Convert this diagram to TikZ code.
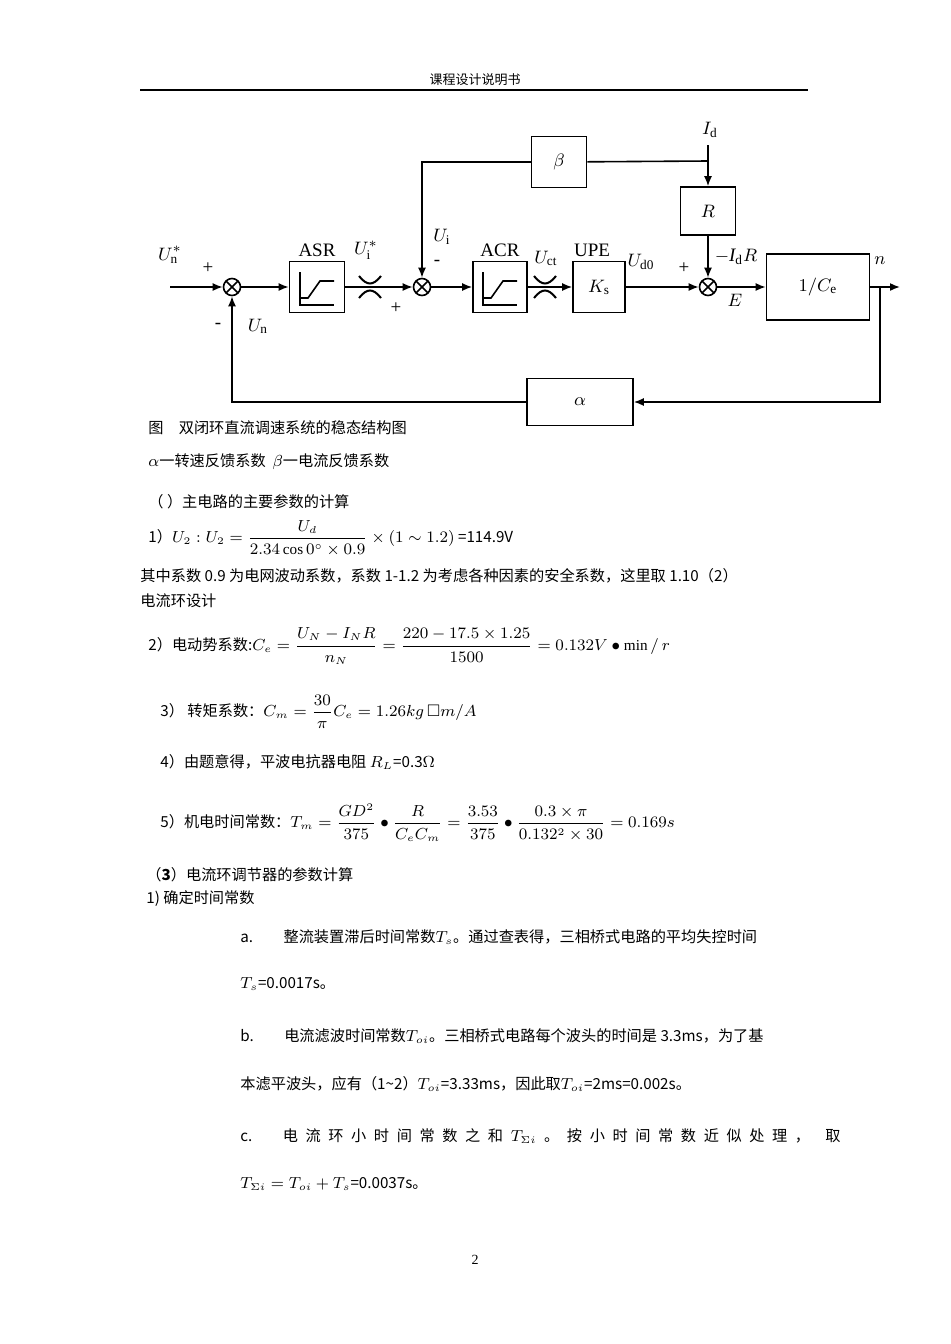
\documentclass[tikz,border=0pt]{standalone}
\usepackage{amsmath,amssymb}
\usepackage{fontspec}
\setmainfont{Liberation Serif}
\newfontfamily\cjk{Noto Sans CJK SC}
\usetikzlibrary{arrows.meta}
\begin{document}
\begin{tikzpicture}[x=0.5pt,y=-0.5pt,
  txt/.style={anchor=west,inner sep=0,font=\cjk\fontsize{7.6}{9}\selectfont},
  lab/.style={inner sep=0,font=\fontsize{9.5}{11}\selectfont},
  blk/.style={draw,line width=0.8pt,inner sep=0,font=\fontsize{9.5}{11}\selectfont},
  sumn/.style={draw,circle,line width=0.8pt,minimum size=8.5pt,inner sep=0,path picture={\draw (path picture bounding box.north west)--(path picture bounding box.south east) (path picture bounding box.north east)--(path picture bounding box.south west);}},
  ar/.style={-{Latex[length=5pt,width=4pt]},line width=0.8pt},
  ln/.style={line width=0.8pt}]
\useasboundingbox (0,0) rectangle (950,1344);
\fill[white] (0,0) rectangle (950,1344);
% header
\node[font=\cjk\fontsize{6.5}{8}\selectfont,inner sep=0] (hdr) at (475,80) {课程设计说明书};
\draw[line width=0.6pt] (140,90) -- (808,90);
\node[font=\fontsize{7}{8}\selectfont,inner sep=0] (pg) at (475,1260) {2};
% diagram
\coordinate (in) at (170,287);
\node[sumn] (s1) at (232,287) {};
\node[blk,minimum width=27.5pt,minimum height=25.5pt] (asr) at (317,287) {};
\coordinate (x1) at (370,287);
\node[sumn] (s2) at (422,287) {};
\node[blk,minimum width=27pt,minimum height=25.5pt] (acr) at (500,287) {};
\coordinate (x2) at (545,287);
\node[blk,minimum width=26pt,minimum height=25.5pt] (upe) at (599,287) {$K_{\mathrm s}$};
\node[sumn] (s3) at (708,287) {};
\node[blk,minimum width=51.5pt,minimum height=33pt] (ce) at (818,287) {$1/C_{\mathrm e}$};
\coordinate (out) at (900,287);
\coordinate (br) at (880,287);
\node[blk,minimum width=27.5pt,minimum height=25.5pt] (beta) at (559,162) {$\beta$};
\node[blk,minimum width=27.5pt,minimum height=24pt] (R) at (708,211) {$R$};
\node[blk,minimum width=53pt,minimum height=23.5pt] (alpha) at (580,402) {$\alpha$};
\node[lab] (Id) at (710,130) {$I_{\mathrm d}$};
\coordinate (idt) at (708,145);
\coordinate (bj) at (708,161);
% connectors
\draw[ar] (in) -- (s1);
\draw[ar] (s1) -- (asr);
\draw[ln] (asr) -- (x1);
\draw[ar] (x1) -- (s2);
\draw[ar] (s2) -- (acr);
\draw[ln] (acr) -- (x2);
\draw[ar] (x2) -- (upe);
\draw[ar] (upe) -- (s3);
\draw[ar] (s3) -- (ce);
\draw[ar] (ce) -- (out);
\draw[ar] (br) |- (alpha);
\draw[ar] (alpha) -| (s1);
\draw[ar] (idt) -- (R);
\draw[ar] (R) -- (s3);
\draw[ln] (bj) -- (beta);
\draw[ar] (beta) -| (s2);
% cross marks
\foreach \c in {370,545}{
 \draw[line width=1pt] (\c-11,276) .. controls (\c-3,286) and (\c+3,286) .. (\c+11,276);
 \draw[line width=1pt] (\c-11,298) .. controls (\c-3,288) and (\c+3,288) .. (\c+11,298);}
% limiter symbols
\foreach \c in {317,500}{
 \draw[line width=0.8pt] (\c-17,272) -- (\c-17,305) -- (\c+17,305);
 \draw[line width=0.8pt] (\c-17,298) -- (\c-9,298) -- (\c+3,281) -- (\c+17,281);}
% labels
\node[lab] at (170,255) {$U^{*}_{\mathrm n}$};
\node[lab] at (208,268) {+};
\node[lab] at (218,326) {-};
\node[lab] at (258,326) {$U_{\mathrm n}$};
\node[lab] at (317,250) {ASR};
\node[lab] at (366,250) {$U^{*}_{\mathrm i}$};
\node[lab] at (396,308) {+};
\node[lab] at (442,237) {$U_{\mathrm i}$};
\node[lab] at (437,263) {-};
\node[lab] at (500,250) {ACR};
\node[lab] at (546,258) {$U_{\mathrm{ct}}$};
\node[lab] at (592,250) {UPE};
\node[lab] at (641,262) {$U_{\mathrm{d0}}$};
\node[lab] at (684,268) {+};
\node[lab] at (736,257) {$\mathit{-I}_{\mathrm d}R$};
\node[lab] at (735,300) {$E$};
\node[lab] at (880,261) {$n$};
% text
\node[txt] at (148,428) {图\quad 双闭环直流调速系统的稳态结构图};
\node[txt] at (148,462) {$\alpha$一转速反馈系数\ \ $\beta$一电流反馈系数};
\node[txt] at (148,502) {（ ）主电路的主要参数的计算};
\node[txt] at (148,538) {1）$U_2:U_2=\dfrac{U_d}{2.34\cos0^\circ\times0.9}\times(1\sim1.2)$ =114.9V};
\node[txt] at (140,576) {其中系数 0.9 为电网波动系数，系数 1-1.2 为考虑各种因素的安全系数，这里取 1.10（2）};
\node[txt] at (140,601) {电流环设计};
\node[txt] at (148,646) {2）电动势系数:$C_e=\dfrac{U_N-I_NR}{n_N}=\dfrac{220-17.5\times1.25}{1500}=0.132V\bullet\min/\,r$};
\node[txt] at (160,712) {3）\ 转矩系数：$C_m=\dfrac{30}{\pi}C_e=1.26kg\,\square m/A$};
\node[txt] at (160,762) {4）由题意得，平波电抗器电阻 $R_L$=0.3$\Omega$};
\node[txt] at (160,823) {5）机电时间常数：$T_m=\dfrac{GD^2}{375}\bullet\dfrac{R}{C_eC_m}=\dfrac{3.53}{375}\bullet\dfrac{0.3\times\pi}{0.132^2\times30}=0.169s$};
\node[txt] at (146,875) {（\textbf{3}）电流环调节器的参数计算};
\node[txt] at (146,899) {1)\ 确定时间常数};
\node[txt] at (240,937) {a.\qquad 整流装置滞后时间常数$T_s$。通过查表得，三相桥式电路的平均失控时间};
\node[txt] at (240,984) {$T_s$=0.0017s。};
\node[txt] at (240,1036) {b.\qquad 电流滤波时间常数$T_{oi}$。三相桥式电路每个波头的时间是 3.3ms，为了基};
\node[txt] at (240,1084) {本滤平波头，应有（1\textasciitilde2）$T_{oi}$=3.33ms，因此取$T_{oi}$=2ms=0.002s。};
\node[txt] at (240,1136) {c.\qquad 电\enspace 流\enspace 环\enspace 小\enspace 时\enspace 间\enspace 常\enspace 数\enspace 之\enspace 和\enspace $T_{\Sigma i}$\enspace 。\enspace 按\enspace 小\enspace 时\enspace 间\enspace 常\enspace 数\enspace 近\enspace 似\enspace 处\enspace 理\enspace ，\quad 取};
\node[txt] at (240,1184) {$T_{\Sigma i}=T_{oi}+T_s$=0.0037s。};
\end{tikzpicture}
\end{document}
